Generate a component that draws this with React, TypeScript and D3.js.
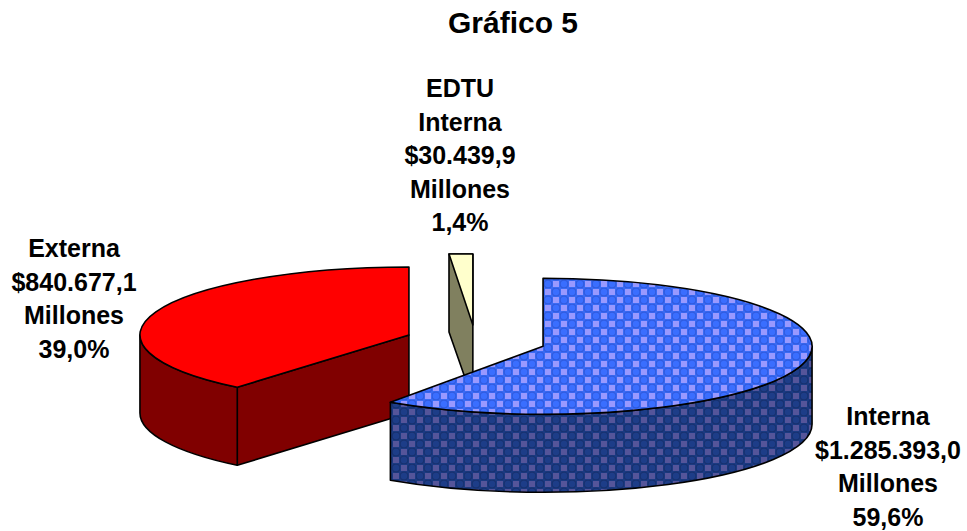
import React from "react";
import * as d3 from "d3";

const categories = ["Interna", "EDTU Interna", "Externa"];
const labelLines = [["Interna"], ["EDTU", "Interna"], ["Externa"]];
const values = [1285393.0, 30439.9, 840677.1];
const unitLabel = "Millones";
const title = "Gráfico 5";

const W = 967, H = 531;
const CX = 475.5, CY = 341, RX = 269, RY = 68, DEPTH = 78, EXPLODE = 0.263;
const labelAnchors: [number, number][] = [[888, 425], [460, 97], [74, 257]];
const LINE = 33.6;
const FONT = "Arial, 'Liberation Sans', sans-serif";

const locale = d3.formatLocale({ decimal: ",", thousands: ".", grouping: [3], currency: ["$", ""] });
const fmtMoney = locale.format("$,.1f");
const fmtPct = locale.format(".1f");

const topFill = ["url(#patTop)", "#FFFFCC", "#FF0000"];
const sideFill = ["url(#patSide)", "#80805F", "#800000"];

type P = [number, number];
const pt = (c: P, a: number, dz = 0): P => [c[0] + RX * Math.sin(a), c[1] - RY * Math.cos(a) + dz];
const s = (p: P) => `${p[0].toFixed(2)},${p[1].toFixed(2)}`;
const arcTo = (p: P, large: number, sweep: number) => `A${RX},${RY} 0 ${large} ${sweep} ${s(p)}`;

function Pattern({ id, bg, sq, ring, dot }: { id: string; bg: string; sq: string; ring: string; dot: string }) {
  return (
    <pattern id={id} width={16} height={16} patternUnits="userSpaceOnUse">
      <rect width={16} height={16} fill={bg} />
      <rect x={1} y={1} width={6} height={6} fill={sq} />
      <rect x={9} y={9} width={6} height={6} fill={sq} />
      <circle cx={12} cy={4} r={4.6} fill={ring} />
      <circle cx={4} cy={12} r={4.6} fill={ring} />
      <circle cx={12} cy={4} r={3.2} fill={dot} />
      <circle cx={4} cy={12} r={3.2} fill={dot} />
    </pattern>
  );
}

export default function App() {
  const total = d3.sum(values);
  const arcs = d3.pie<number>().sort(null).value((d) => d)(values);

  const slices = arcs.map((a, i) => {
    const a0 = a.startAngle, a1 = a.endAngle;
    const mid = (a0 + a1) / 2;
    const c: P = [CX + EXPLODE * RX * Math.sin(mid), CY - EXPLODE * RY * Math.cos(mid)];
    const share = (a1 - a0) / (2 * Math.PI);
    const parts: { d: string; fill: string }[] = [];
    if (share < 0.03) {
      // tiny slice rendered standing up (as in the original 3-D chart)
      const w = RX * (a1 - a0);
      const x0 = CX - 26.5, top = CY - 87, L = RY + 3, bot = top + 135;
      parts.push({
        d: `M${x0},${top} L${x0 + w},${top} L${x0 + w},${bot} L${x0 + 0.35 * (bot - top - DEPTH)},${bot} L${x0},${top + DEPTH} Z`,
        fill: sideFill[i],
      });
      parts.push({ d: `M${x0},${top} L${x0 + w},${top} L${x0 + w},${top + L} Z`, fill: topFill[i] });
      return { i, parts };
    }
    if (Math.sin(a0) < -1e-6) {
      const p = pt(c, a0);
      parts.push({ d: `M${s(c)} L${s(p)} L${s(pt(c, a0, DEPTH))} L${s([c[0], c[1] + DEPTH])} Z`, fill: sideFill[i] });
    }
    if (Math.sin(a1) > 1e-6) {
      const p = pt(c, a1);
      parts.push({ d: `M${s(c)} L${s(p)} L${s(pt(c, a1, DEPTH))} L${s([c[0], c[1] + DEPTH])} Z`, fill: sideFill[i] });
    }
    const st = Math.max(a0, Math.PI / 2), en = Math.min(a1, (3 * Math.PI) / 2);
    if (en > st) {
      parts.push({
        d: `M${s(pt(c, st))} ${arcTo(pt(c, en), 0, 1)} L${s(pt(c, en, DEPTH))} ${arcTo(pt(c, st, DEPTH), 0, 0)} Z`,
        fill: sideFill[i],
      });
    }
    parts.push({
      d: `M${s(c)} L${s(pt(c, a0))} ${arcTo(pt(c, a1), a1 - a0 > Math.PI ? 1 : 0, 1)} Z`,
      fill: topFill[i],
    });
    return { i, parts };
  });

  const order = [2, 1, 0];

  return (
    <svg width={W} height={H} style={{ position: "absolute", left: 0, top: 0, display: "block", background: "#fff" }}>
      <defs>
        <Pattern id="patTop" bg="#3A6BF5" sq="#9999FF" ring="#2F5BE0" dot="#3A6EFF" />
        <Pattern id="patSide" bg="#1B3A82" sq="#55559A" ring="#163170" dot="#1D3D88" />
      </defs>
      <text x={513} y={33} textAnchor="middle" fontFamily={FONT} fontWeight="bold" fontSize={30} fill="#000">
        {title}
      </text>
      {order.map((k) => (
        <g key={categories[k]}>
          {slices[k].parts.map((p, j) => (
            <path key={j} d={p.d} fill={p.fill} stroke="#000" strokeWidth={1.6} strokeLinejoin="round" />
          ))}
        </g>
      ))}
      {values.map((v, i) => {
        const lines = [...labelLines[i], fmtMoney(v), unitLabel, fmtPct((v / total) * 100) + "%"];
        const [lx, ly] = labelAnchors[i];
        return (
          <text key={categories[i]} textAnchor="middle" fontFamily={FONT} fontWeight="bold" fontSize={25} fill="#000">
            {lines.map((t, j) => (
              <tspan key={j} x={lx} y={ly + j * LINE}>
                {t}
              </tspan>
            ))}
          </text>
        );
      })}
    </svg>
  );
}
